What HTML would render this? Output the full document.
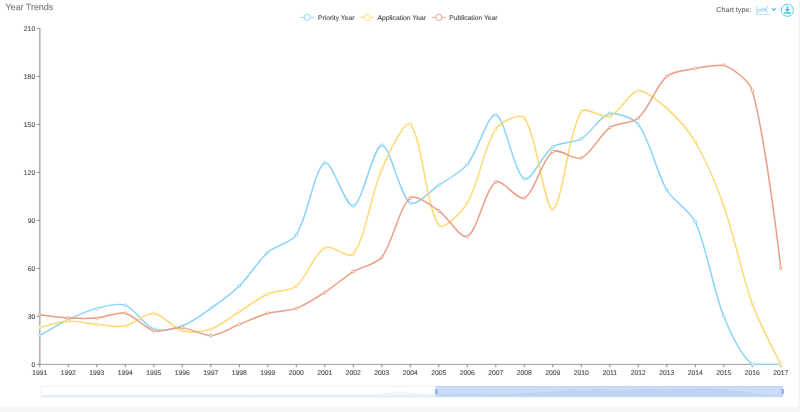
<!DOCTYPE html>
<html lang="en">
<head>
<meta charset="utf-8">
<title>Year Trends</title>
<style>
html,body{margin:0;padding:0;background:#f5f5f5;overflow:hidden;}
body{width:800px;height:412px;}
svg{display:block;font-family:"Liberation Sans",Arial,Helvetica,sans-serif;}
svg text{text-rendering:geometricPrecision;}
.ax text{stroke:#333;stroke-width:0.1px;stroke-opacity:0.6;}
</style>
</head>
<body>
<svg width="800" height="412" viewBox="0 0 800 412">
<g filter="url(#soft)">
<defs><filter id="soft" x="0" y="0" width="800" height="412" filterUnits="userSpaceOnUse"><feConvolveMatrix order="3" kernelMatrix="0.00087 0.02776 0.00087 0.02776 0.88549 0.02776 0.00087 0.02776 0.00087" divisor="1" edgeMode="duplicate" preserveAlpha="true"/></filter></defs>
<rect x="0" y="0" width="800" height="412" fill="#f5f5f5"/>
<rect x="0" y="0" width="798.2" height="406.8" fill="#ffffff"/>
<text x="5.6" y="10.1" font-size="8.9" fill="#7a7a7a" stroke="#7a7a7a" stroke-width="0.18" class="t">Year Trends</text>
<g class="ax">
<line x1="39.80" y1="28.10" x2="39.80" y2="364.90" stroke="#adadad" stroke-width="1.5"/>
<line x1="39.30" y1="364.40" x2="781.10" y2="364.40" stroke="#858585" stroke-width="0.85"/>
<line x1="36.90" y1="364.40" x2="39.80" y2="364.40" stroke="#7c7c7c" stroke-width="0.9"/>
<text x="35.2" y="366.50" text-anchor="end" font-size="6.8" fill="#333">0</text>
<line x1="36.90" y1="316.40" x2="39.80" y2="316.40" stroke="#7c7c7c" stroke-width="0.9"/>
<text x="35.2" y="318.50" text-anchor="end" font-size="6.8" fill="#333">30</text>
<line x1="36.90" y1="268.40" x2="39.80" y2="268.40" stroke="#7c7c7c" stroke-width="0.9"/>
<text x="35.2" y="270.50" text-anchor="end" font-size="6.8" fill="#333">60</text>
<line x1="36.90" y1="220.40" x2="39.80" y2="220.40" stroke="#7c7c7c" stroke-width="0.9"/>
<text x="35.2" y="222.50" text-anchor="end" font-size="6.8" fill="#333">90</text>
<line x1="36.90" y1="172.40" x2="39.80" y2="172.40" stroke="#7c7c7c" stroke-width="0.9"/>
<text x="35.2" y="174.50" text-anchor="end" font-size="6.8" fill="#333">120</text>
<line x1="36.90" y1="124.40" x2="39.80" y2="124.40" stroke="#7c7c7c" stroke-width="0.9"/>
<text x="35.2" y="126.50" text-anchor="end" font-size="6.8" fill="#333">150</text>
<line x1="36.90" y1="76.40" x2="39.80" y2="76.40" stroke="#7c7c7c" stroke-width="0.9"/>
<text x="35.2" y="78.50" text-anchor="end" font-size="6.8" fill="#333">180</text>
<line x1="36.90" y1="28.40" x2="39.80" y2="28.40" stroke="#7c7c7c" stroke-width="0.9"/>
<text x="35.2" y="30.50" text-anchor="end" font-size="6.8" fill="#333">210</text>
<line x1="39.80" y1="364.40" x2="39.80" y2="367.30" stroke="#7c7c7c" stroke-width="0.9"/>
<text x="39.80" y="374.7" text-anchor="middle" font-size="6.8" fill="#333">1991</text>
<line x1="68.30" y1="364.40" x2="68.30" y2="367.30" stroke="#7c7c7c" stroke-width="0.9"/>
<text x="68.30" y="374.7" text-anchor="middle" font-size="6.8" fill="#333">1992</text>
<line x1="96.80" y1="364.40" x2="96.80" y2="367.30" stroke="#7c7c7c" stroke-width="0.9"/>
<text x="96.80" y="374.7" text-anchor="middle" font-size="6.8" fill="#333">1993</text>
<line x1="125.30" y1="364.40" x2="125.30" y2="367.30" stroke="#7c7c7c" stroke-width="0.9"/>
<text x="125.30" y="374.7" text-anchor="middle" font-size="6.8" fill="#333">1994</text>
<line x1="153.80" y1="364.40" x2="153.80" y2="367.30" stroke="#7c7c7c" stroke-width="0.9"/>
<text x="153.80" y="374.7" text-anchor="middle" font-size="6.8" fill="#333">1995</text>
<line x1="182.30" y1="364.40" x2="182.30" y2="367.30" stroke="#7c7c7c" stroke-width="0.9"/>
<text x="182.30" y="374.7" text-anchor="middle" font-size="6.8" fill="#333">1996</text>
<line x1="210.80" y1="364.40" x2="210.80" y2="367.30" stroke="#7c7c7c" stroke-width="0.9"/>
<text x="210.80" y="374.7" text-anchor="middle" font-size="6.8" fill="#333">1997</text>
<line x1="239.30" y1="364.40" x2="239.30" y2="367.30" stroke="#7c7c7c" stroke-width="0.9"/>
<text x="239.30" y="374.7" text-anchor="middle" font-size="6.8" fill="#333">1998</text>
<line x1="267.80" y1="364.40" x2="267.80" y2="367.30" stroke="#7c7c7c" stroke-width="0.9"/>
<text x="267.80" y="374.7" text-anchor="middle" font-size="6.8" fill="#333">1999</text>
<line x1="296.30" y1="364.40" x2="296.30" y2="367.30" stroke="#7c7c7c" stroke-width="0.9"/>
<text x="296.30" y="374.7" text-anchor="middle" font-size="6.8" fill="#333">2000</text>
<line x1="324.80" y1="364.40" x2="324.80" y2="367.30" stroke="#7c7c7c" stroke-width="0.9"/>
<text x="324.80" y="374.7" text-anchor="middle" font-size="6.8" fill="#333">2001</text>
<line x1="353.30" y1="364.40" x2="353.30" y2="367.30" stroke="#7c7c7c" stroke-width="0.9"/>
<text x="353.30" y="374.7" text-anchor="middle" font-size="6.8" fill="#333">2002</text>
<line x1="381.80" y1="364.40" x2="381.80" y2="367.30" stroke="#7c7c7c" stroke-width="0.9"/>
<text x="381.80" y="374.7" text-anchor="middle" font-size="6.8" fill="#333">2003</text>
<line x1="410.30" y1="364.40" x2="410.30" y2="367.30" stroke="#7c7c7c" stroke-width="0.9"/>
<text x="410.30" y="374.7" text-anchor="middle" font-size="6.8" fill="#333">2004</text>
<line x1="438.80" y1="364.40" x2="438.80" y2="367.30" stroke="#7c7c7c" stroke-width="0.9"/>
<text x="438.80" y="374.7" text-anchor="middle" font-size="6.8" fill="#333">2005</text>
<line x1="467.30" y1="364.40" x2="467.30" y2="367.30" stroke="#7c7c7c" stroke-width="0.9"/>
<text x="467.30" y="374.7" text-anchor="middle" font-size="6.8" fill="#333">2006</text>
<line x1="495.80" y1="364.40" x2="495.80" y2="367.30" stroke="#7c7c7c" stroke-width="0.9"/>
<text x="495.80" y="374.7" text-anchor="middle" font-size="6.8" fill="#333">2007</text>
<line x1="524.30" y1="364.40" x2="524.30" y2="367.30" stroke="#7c7c7c" stroke-width="0.9"/>
<text x="524.30" y="374.7" text-anchor="middle" font-size="6.8" fill="#333">2008</text>
<line x1="552.80" y1="364.40" x2="552.80" y2="367.30" stroke="#7c7c7c" stroke-width="0.9"/>
<text x="552.80" y="374.7" text-anchor="middle" font-size="6.8" fill="#333">2009</text>
<line x1="581.30" y1="364.40" x2="581.30" y2="367.30" stroke="#7c7c7c" stroke-width="0.9"/>
<text x="581.30" y="374.7" text-anchor="middle" font-size="6.8" fill="#333">2010</text>
<line x1="609.80" y1="364.40" x2="609.80" y2="367.30" stroke="#7c7c7c" stroke-width="0.9"/>
<text x="609.80" y="374.7" text-anchor="middle" font-size="6.8" fill="#333">2011</text>
<line x1="638.30" y1="364.40" x2="638.30" y2="367.30" stroke="#7c7c7c" stroke-width="0.9"/>
<text x="638.30" y="374.7" text-anchor="middle" font-size="6.8" fill="#333">2012</text>
<line x1="666.80" y1="364.40" x2="666.80" y2="367.30" stroke="#7c7c7c" stroke-width="0.9"/>
<text x="666.80" y="374.7" text-anchor="middle" font-size="6.8" fill="#333">2013</text>
<line x1="695.30" y1="364.40" x2="695.30" y2="367.30" stroke="#7c7c7c" stroke-width="0.9"/>
<text x="695.30" y="374.7" text-anchor="middle" font-size="6.8" fill="#333">2014</text>
<line x1="723.80" y1="364.40" x2="723.80" y2="367.30" stroke="#7c7c7c" stroke-width="0.9"/>
<text x="723.80" y="374.7" text-anchor="middle" font-size="6.8" fill="#333">2015</text>
<line x1="752.30" y1="364.40" x2="752.30" y2="367.30" stroke="#7c7c7c" stroke-width="0.9"/>
<text x="752.30" y="374.7" text-anchor="middle" font-size="6.8" fill="#333">2016</text>
<line x1="780.80" y1="364.40" x2="780.80" y2="367.30" stroke="#7c7c7c" stroke-width="0.9"/>
<text x="780.80" y="374.7" text-anchor="middle" font-size="6.8" fill="#333">2017</text>
</g>
<path d="M39.80,335.60C39.80,335.60 59.47,323.81 68.30,319.60C76.57,315.65 87.97,310.63 96.80,308.40C105.07,306.31 117.86,302.49 125.30,305.20C134.96,308.73 144.14,325.67 153.80,329.20C161.24,331.91 174.41,328.88 182.30,326.00C191.51,322.64 202.59,314.16 210.80,308.40C219.69,302.16 231.58,293.58 239.30,286.00C248.68,276.78 258.09,261.13 267.80,252.40C275.19,245.77 291.14,242.92 296.30,234.80C308.24,216.04 314.55,167.98 324.80,162.80C331.65,159.34 345.86,208.30 353.30,206.00C362.96,203.02 373.06,145.69 381.80,145.20C390.16,144.73 399.06,194.91 410.30,202.80C416.16,206.91 430.47,190.81 438.80,185.20C447.57,179.29 460.78,172.46 467.30,164.40C477.88,151.34 488.11,113.20 495.80,114.80C505.21,117.18 513.69,172.84 524.30,178.80C530.79,182.44 542.69,153.90 552.80,146.80C559.79,141.90 573.85,143.19 581.30,138.80C590.95,133.11 600.30,115.60 609.80,113.20C617.40,113.20 633.17,117.49 638.30,124.40C650.27,140.53 656.11,171.69 666.80,190.00C673.21,200.97 690.12,210.51 695.30,222.00C707.22,248.43 712.88,289.12 723.80,316.40C729.98,331.84 740.98,354.87 752.30,364.40C758.08,364.40 780.80,364.40 780.80,364.40" fill="none" stroke="#80d0fa" stroke-width="1.42" stroke-linejoin="round"/>
<path d="M39.80,327.60C39.80,327.60 59.67,321.68 68.30,321.20C76.77,320.72 88.23,323.68 96.80,324.40C105.33,325.12 117.14,327.60 125.30,326.00C134.24,324.24 145.55,312.51 153.80,313.20C162.65,313.95 173.07,328.21 182.30,330.80C190.17,333.01 202.93,331.85 210.80,329.20C220.03,326.09 230.75,316.88 239.30,311.60C247.85,306.32 258.72,298.08 267.80,294.00C275.82,290.40 289.76,291.32 296.30,286.00C306.86,277.40 314.18,253.56 324.80,247.60C331.28,243.96 349.09,259.79 353.30,254.00C366.19,236.27 371.07,193.60 381.80,169.20C388.17,154.72 404.55,118.75 410.30,124.40C421.65,135.55 426.10,207.73 438.80,225.20C443.20,231.25 461.92,211.86 467.30,202.80C479.02,183.06 483.48,147.53 495.80,129.20C500.58,122.09 520.15,112.18 524.30,118.00C537.25,136.18 544.52,210.13 552.80,209.20C561.62,208.21 567.98,133.28 581.30,111.60C585.08,105.44 602.45,119.08 609.80,116.40C619.55,112.84 629.18,92.08 638.30,90.80C646.28,90.80 659.41,101.77 666.80,108.40C676.51,117.13 688.70,130.70 695.30,142.00C705.80,159.98 716.82,186.22 723.80,206.00C733.92,234.70 742.00,274.98 752.30,303.60C759.10,322.50 780.80,364.40 780.80,364.40" fill="none" stroke="#fdd566" stroke-width="1.42" stroke-linejoin="round"/>
<path d="M39.80,314.80C39.80,314.80 59.72,317.52 68.30,318.00C76.82,318.48 88.31,318.71 96.80,318.00C105.41,317.27 117.38,311.42 125.30,313.20C134.48,315.26 144.59,328.47 153.80,330.80C161.69,332.79 173.89,326.89 182.30,327.60C190.99,328.33 202.39,335.60 210.80,335.60C219.49,335.11 230.75,327.76 239.30,324.40C247.85,321.04 259.00,315.67 267.80,313.20C276.10,310.87 288.28,311.33 296.30,308.40C305.38,305.09 316.58,297.71 324.80,292.40C333.68,286.67 344.32,277.14 353.30,271.60C361.42,266.58 376.21,264.42 381.80,257.20C393.31,242.34 398.71,207.43 410.30,198.00C415.81,193.51 431.12,205.63 438.80,210.80C448.22,217.15 460.73,239.72 467.30,236.40C477.83,231.08 484.64,189.52 495.80,182.00C501.74,178.00 517.89,201.42 524.30,198.00C534.99,192.30 541.67,159.41 552.80,151.60C558.77,147.41 574.25,160.97 581.30,158.00C591.35,153.77 599.87,134.57 609.80,127.60C616.97,122.57 631.91,123.74 638.30,118.00C649.01,108.38 656.03,85.78 666.80,76.40C673.13,70.90 686.61,70.11 695.30,68.40C703.71,66.75 716.48,65.20 723.80,65.20C733.58,69.04 749.30,80.10 752.30,90.80C766.40,141.06 780.80,268.40 780.80,268.40" fill="none" stroke="#e9977b" stroke-width="1.42" stroke-linejoin="round"/>
<g fill="#fff" stroke="#80d0fa" stroke-width="0.95">
<circle cx="39.80" cy="335.60" r="1.35"/>
<circle cx="68.30" cy="319.60" r="1.35"/>
<circle cx="96.80" cy="308.40" r="1.35"/>
<circle cx="125.30" cy="305.20" r="1.35"/>
<circle cx="153.80" cy="329.20" r="1.35"/>
<circle cx="182.30" cy="326.00" r="1.35"/>
<circle cx="210.80" cy="308.40" r="1.35"/>
<circle cx="239.30" cy="286.00" r="1.35"/>
<circle cx="267.80" cy="252.40" r="1.35"/>
<circle cx="296.30" cy="234.80" r="1.35"/>
<circle cx="324.80" cy="162.80" r="1.35"/>
<circle cx="353.30" cy="206.00" r="1.35"/>
<circle cx="381.80" cy="145.20" r="1.35"/>
<circle cx="410.30" cy="202.80" r="1.35"/>
<circle cx="438.80" cy="185.20" r="1.35"/>
<circle cx="467.30" cy="164.40" r="1.35"/>
<circle cx="495.80" cy="114.80" r="1.35"/>
<circle cx="524.30" cy="178.80" r="1.35"/>
<circle cx="552.80" cy="146.80" r="1.35"/>
<circle cx="581.30" cy="138.80" r="1.35"/>
<circle cx="609.80" cy="113.20" r="1.35"/>
<circle cx="638.30" cy="124.40" r="1.35"/>
<circle cx="666.80" cy="190.00" r="1.35"/>
<circle cx="695.30" cy="222.00" r="1.35"/>
<circle cx="723.80" cy="316.40" r="1.35"/>
<circle cx="752.30" cy="364.40" r="1.35"/>
<circle cx="780.80" cy="364.40" r="1.35"/>
</g>
<g fill="#fff" stroke="#fdd566" stroke-width="0.95">
<circle cx="39.80" cy="327.60" r="1.35"/>
<circle cx="68.30" cy="321.20" r="1.35"/>
<circle cx="96.80" cy="324.40" r="1.35"/>
<circle cx="125.30" cy="326.00" r="1.35"/>
<circle cx="153.80" cy="313.20" r="1.35"/>
<circle cx="182.30" cy="330.80" r="1.35"/>
<circle cx="210.80" cy="329.20" r="1.35"/>
<circle cx="239.30" cy="311.60" r="1.35"/>
<circle cx="267.80" cy="294.00" r="1.35"/>
<circle cx="296.30" cy="286.00" r="1.35"/>
<circle cx="324.80" cy="247.60" r="1.35"/>
<circle cx="353.30" cy="254.00" r="1.35"/>
<circle cx="381.80" cy="169.20" r="1.35"/>
<circle cx="410.30" cy="124.40" r="1.35"/>
<circle cx="438.80" cy="225.20" r="1.35"/>
<circle cx="467.30" cy="202.80" r="1.35"/>
<circle cx="495.80" cy="129.20" r="1.35"/>
<circle cx="524.30" cy="118.00" r="1.35"/>
<circle cx="552.80" cy="209.20" r="1.35"/>
<circle cx="581.30" cy="111.60" r="1.35"/>
<circle cx="609.80" cy="116.40" r="1.35"/>
<circle cx="638.30" cy="90.80" r="1.35"/>
<circle cx="666.80" cy="108.40" r="1.35"/>
<circle cx="695.30" cy="142.00" r="1.35"/>
<circle cx="723.80" cy="206.00" r="1.35"/>
<circle cx="752.30" cy="303.60" r="1.35"/>
<circle cx="780.80" cy="364.40" r="1.35"/>
</g>
<g fill="#fff" stroke="#e9977b" stroke-width="0.95">
<circle cx="39.80" cy="314.80" r="1.35"/>
<circle cx="68.30" cy="318.00" r="1.35"/>
<circle cx="96.80" cy="318.00" r="1.35"/>
<circle cx="125.30" cy="313.20" r="1.35"/>
<circle cx="153.80" cy="330.80" r="1.35"/>
<circle cx="182.30" cy="327.60" r="1.35"/>
<circle cx="210.80" cy="335.60" r="1.35"/>
<circle cx="239.30" cy="324.40" r="1.35"/>
<circle cx="267.80" cy="313.20" r="1.35"/>
<circle cx="296.30" cy="308.40" r="1.35"/>
<circle cx="324.80" cy="292.40" r="1.35"/>
<circle cx="353.30" cy="271.60" r="1.35"/>
<circle cx="381.80" cy="257.20" r="1.35"/>
<circle cx="410.30" cy="198.00" r="1.35"/>
<circle cx="438.80" cy="210.80" r="1.35"/>
<circle cx="467.30" cy="236.40" r="1.35"/>
<circle cx="495.80" cy="182.00" r="1.35"/>
<circle cx="524.30" cy="198.00" r="1.35"/>
<circle cx="552.80" cy="151.60" r="1.35"/>
<circle cx="581.30" cy="158.00" r="1.35"/>
<circle cx="609.80" cy="127.60" r="1.35"/>
<circle cx="638.30" cy="118.00" r="1.35"/>
<circle cx="666.80" cy="76.40" r="1.35"/>
<circle cx="695.30" cy="68.40" r="1.35"/>
<circle cx="723.80" cy="65.20" r="1.35"/>
<circle cx="752.30" cy="90.80" r="1.35"/>
<circle cx="780.80" cy="268.40" r="1.35"/>
</g>
<line x1="300.20" y1="17.40" x2="314.40" y2="17.40" stroke="#80d0fa" stroke-width="0.9"/>
<circle cx="307.30" cy="17.40" r="3.1" fill="#fff" stroke="#80d0fa" stroke-width="0.9"/>
<text class="lgt" x="318.00" y="19.8" font-size="6.75" fill="#333" stroke="#333" stroke-width="0.1" stroke-opacity="0.6">Priority Year</text>
<line x1="360.20" y1="17.40" x2="374.00" y2="17.40" stroke="#fdd566" stroke-width="0.9"/>
<circle cx="367.10" cy="17.40" r="3.1" fill="#fff" stroke="#fdd566" stroke-width="0.9"/>
<text class="lgt" x="377.60" y="19.8" font-size="6.75" fill="#333" stroke="#333" stroke-width="0.1" stroke-opacity="0.6">Application Year</text>
<line x1="431.80" y1="17.40" x2="445.80" y2="17.40" stroke="#e9977b" stroke-width="0.9"/>
<circle cx="438.80" cy="17.40" r="3.1" fill="#fff" stroke="#e9977b" stroke-width="0.9"/>
<text class="lgt" x="449.20" y="19.8" font-size="6.75" fill="#333" stroke="#333" stroke-width="0.1" stroke-opacity="0.6">Publication Year</text>
<text x="716.3" y="11.9" font-size="7.2" fill="#444">Chart type:</text>
<g fill="none" stroke="#7ec9ee" stroke-width="0.75">
<path d="M756.6,5.2V14.4H770.1" stroke-width="0.62"/>
<path d="M756.9,9.8H761.6M756.9,12.8C758.5,11.5 760,10.6 761.8,10.3M766.2,9.3L767.4,6M766.2,10.1L767.6,12.6"/>
<circle cx="762.9" cy="9.6" r="1.55" fill="#fff"/><circle cx="765.2" cy="9.7" r="0.8" fill="#a6daf3"/>
</g>
<path d="M772.4,8.6L773.9,10.2L775.4,8.6" fill="none" stroke="#5cb0e4" stroke-width="1.3" stroke-linecap="round" stroke-linejoin="round"/>
<circle cx="787.4" cy="10.3" r="6.05" fill="#fff" stroke="#4ccde9" stroke-width="1"/>
<path d="M786.6,6.2h1.6v3h1.9l-2.7,2.7l-2.7,-2.7h1.9z" fill="#2fc0e0"/>
<rect x="784" y="12.2" width="6.8" height="1.5" fill="#2fc0e0"/>
<rect x="41.20" y="386.20" width="741.40" height="10.80" fill="#fff" stroke="#dfe8f7" stroke-width="0.7"/>
<path d="M41.20,397.00L41.20,394.98L54.44,394.98L67.68,394.98L80.92,394.93L94.16,394.98L107.40,394.93L120.64,394.98L133.88,394.89L147.11,394.93L160.35,394.98L173.59,394.89L186.83,394.85L200.07,394.72L213.31,394.37L226.55,394.76L239.79,394.85L253.03,394.89L266.27,394.80L279.51,394.85L292.75,394.76L305.99,394.80L319.22,394.72L332.46,394.63L345.70,394.55L358.94,394.59L372.18,394.46L385.42,393.69L398.66,391.97L411.90,393.51L425.14,394.12L438.38,394.20L438.38,397.00Z" fill="#f4f6f9"/>
<path d="M41.20,394.98L54.44,394.98L67.68,394.98L80.92,394.93L94.16,394.98L107.40,394.93L120.64,394.98L133.88,394.89L147.11,394.93L160.35,394.98L173.59,394.89L186.83,394.85L200.07,394.72L213.31,394.37L226.55,394.76L239.79,394.85L253.03,394.89L266.27,394.80L279.51,394.85L292.75,394.76L305.99,394.80L319.22,394.72L332.46,394.63L345.70,394.55L358.94,394.59L372.18,394.46L385.42,393.69L398.66,391.97L411.90,393.51L425.14,394.12L438.38,394.20" fill="none" stroke="#e6e9ee" stroke-width="0.4"/>
<rect x="41.20" y="394.98" width="395.00" height="2.32" fill="#e8eef7"/>
<path d="M438.38,397.00L438.38,394.20L451.62,393.77L464.86,393.47L478.10,393.38L491.34,394.03L504.57,393.94L517.81,393.47L531.05,392.87L544.29,391.97L557.53,391.49L570.77,389.56L584.01,390.72L597.25,389.08L610.49,390.63L623.73,390.16L636.97,389.60L650.21,388.27L663.45,389.99L676.69,389.13L689.93,388.91L703.16,388.22L716.40,388.53L729.64,390.29L742.88,391.15L756.12,393.69L769.36,394.98L782.60,394.98L782.60,397.00Z" fill="#ecf0f8"/>
<rect x="436.20" y="386.05" width="346.40" height="10.75" fill="#6f9fe8" fill-opacity="0.37"/>
<line x1="436.20" y1="386.05" x2="436.20" y2="396.80" stroke="#a9c4f0" stroke-width="0.5"/>
<line x1="782.60" y1="386.05" x2="782.60" y2="396.80" stroke="#a9c4f0" stroke-width="0.5"/>
<rect x="434.90" y="388.9" width="2.6" height="5.3" rx="0.7" fill="#8fb2ea"/>
<rect x="781.30" y="388.9" width="2.6" height="5.3" rx="0.7" fill="#8fb2ea"/>
</g>
</svg>
</body>
</html>
